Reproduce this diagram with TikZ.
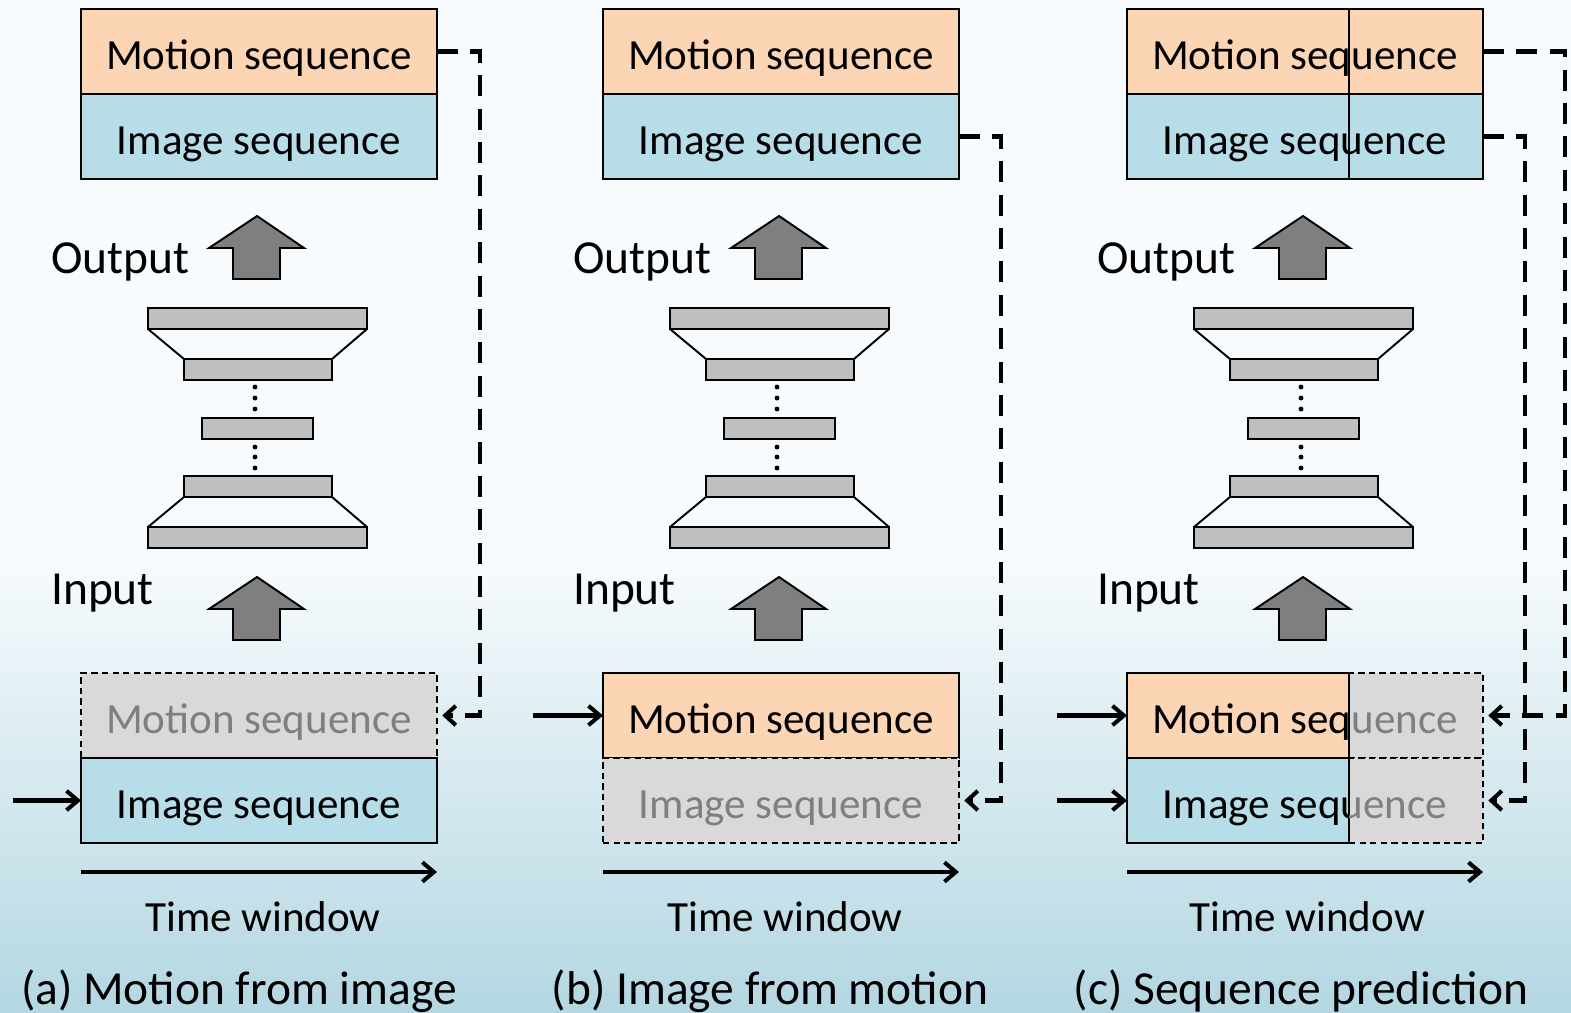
\documentclass[tikz,border=0pt]{standalone}
\usepackage{fontspec}
\setmainfont{Carlito}
\usetikzlibrary{positioning,arrows.meta}

\definecolor{motfill}{HTML}{FCD5B5}
\definecolor{imgfill}{HTML}{B7DEE8}
\definecolor{barfill}{HTML}{BFBFBF}
\definecolor{upfill}{HTML}{7F7F7F}
\definecolor{hidefill}{HTML}{D9D9D9}
\definecolor{hidetext}{HTML}{7F7F7F}
\definecolor{bgtop}{HTML}{F7FBFD}
\definecolor{bgbot}{HTML}{B4D7E2}

\tikzset{
  seqtext/.style={font=\fontsize{24.5}{28}\selectfont, text height=20pt, text depth=0pt, inner sep=0pt},
  seqbox/.style={seqtext, draw, line width=1.1pt, minimum width=7.12cm, minimum height=1.7cm, outer sep=0pt},
  motbox/.style={seqbox, fill=motfill},
  imgbox/.style={seqbox, fill=imgfill},
  hidebox/.style={seqbox, fill=hidefill, text=hidetext, line width=0.9pt, dash pattern=on 3.6pt off 2.4pt},
  bar/.style={draw, line width=1.1pt, fill=barfill},
  uparrow/.style={draw, line width=1.1pt, fill=upfill},
  lbl/.style={font=\fontsize{24.5}{28}\selectfont, inner sep=0pt, anchor=base},
  iolbl/.style={font=\fontsize{27}{32}\selectfont, inner sep=0pt, anchor=base},
  captxt/.style={font=\fontsize{27}{32}\selectfont, inner sep=0pt, anchor=base},
  feed/.style={line width=2.3pt, dash pattern=on 12pt off 7pt, -{Straight Barb[length=6pt,width=11pt]}, shorten >=3pt},
  inarrow/.style={line width=2.3pt, -{Straight Barb[length=6.5pt,width=11pt]}},
}

\begin{document}
\begin{tikzpicture}[x=0.02cm,y=-0.02cm]
\useasboundingbox (0,0) rectangle (1571,1012);
\fill[bgtop] (0,0) rectangle (1571,1012);
\shade[top color=bgtop, bottom color=bgbot] (0,560) rectangle (1571,1012);

% network, block arrows and labels, same in every panel
\foreach \dx/\p in {0/a,522/b,1046/c}{
\begin{scope}[shift={(\dx,0)}]
\draw[uparrow] (257,216) -- (304,248) -- (280,248) -- (280,279) -- (233,279) -- (233,248) -- (209,248) -- cycle;
\draw[uparrow] (257,577) -- (304,609) -- (280,609) -- (280,640) -- (233,640) -- (233,609) -- (209,609) -- cycle;
\node[iolbl] (out\p) at (120.5,273) {Output};
\node[iolbl] (in\p) at (102.5,604) {Input};

\draw[line width=1.1pt] (148,329) -- (184,359) (367,329) -- (332,359);
\draw[line width=1.1pt] (184,497) -- (148,527) (332,497) -- (367,527);
\draw[bar] (148,308) rectangle (367,329);
\draw[bar] (184,359) rectangle (332,380);
\draw[bar] (202,418) rectangle (313,439);
\draw[bar] (184,476) rectangle (332,497);
\draw[bar] (148,527) rectangle (367,548);
\foreach \y in {387,398,409,447,457,468}
  \fill (255,\y) circle (1.4pt);
\end{scope}
}

% (a)
\node[motbox] (mt_a) at (259,51.5) {Motion sequence};
\node[imgbox] (it_a) at (259,136.5) {Image sequence};
\node[hidebox] (mb_a) at (259,715.5) {Motion sequence};
\node[imgbox] (ib_a) at (259,800.5) {Image sequence};
\coordinate (fa) at (480,400);
\draw[feed] (mt_a.east) -| (fa) |- (mb_a.east);
\draw[inarrow] ([xshift=-1.36cm]ib_a.west) -- (ib_a.west);
\draw[inarrow] ([yshift=-0.58cm]ib_a.south west) -- ([yshift=-0.58cm]ib_a.south east);
\node[lbl] (tw_a) at (263,931) {Time window};
\node[captxt] (cap_a) at (239,1004) {(a) Motion from image};

% (b)
\node[motbox] (mt_b) at (781,51.5) {Motion sequence};
\node[imgbox] (it_b) at (781,136.5) {Image sequence};
\node[motbox] (mb_b) at (781,715.5) {Motion sequence};
\node[hidebox] (ib_b) at (781,800.5) {Image sequence};
\coordinate (fb) at (1001,400);
\draw[feed] (it_b.east) -| (fb) |- (ib_b.east);
\draw[inarrow] ([xshift=-1.4cm]mb_b.west) -- (mb_b.west);
\draw[inarrow] ([yshift=-0.58cm]ib_b.south west) -- ([yshift=-0.58cm]ib_b.south east);
\node[lbl] (tw_b) at (785,931) {Time window};
\node[captxt] (cap_b) at (770,1004) {(b) Image from motion};

% (c)
\node[motbox] (mt_c) at (1305,51.5) {Motion sequence};
\node[imgbox] (it_c) at (1305,136.5) {Image sequence};
\draw[line width=1.1pt] (1349,9) -- (1349,179);
\node[hidebox, minimum width=2.68cm] (mg_c) at (1416,715.5) {};
\node[hidebox, minimum width=2.68cm] (ig_c) at (1416,800.5) {};
\node[motbox, minimum width=4.44cm] (mb_c) at (1238,715.5) {};
\node[imgbox, minimum width=4.44cm] (ib_c) at (1238,800.5) {};
\begin{scope}
\clip (1127,673) rectangle (1349,843);
\node[seqtext] (mtl_c) at (1305,715.5) {Motion sequence};
\node[seqtext] (itl_c) at (1305,800.5) {Image sequence};
\end{scope}
\begin{scope}
\clip (1349,673) rectangle (1483,843);
\node[seqtext, text=hidetext] (mtr_c) at (1305,715.5) {Motion sequence};
\node[seqtext, text=hidetext] (itr_c) at (1305,800.5) {Image sequence};
\end{scope}
\coordinate (fc1) at (1565,400);
\coordinate (fc2) at (1525,400);
\draw[feed] (mt_c.east) -| (fc1) |- (mg_c.east);
\draw[feed] (it_c.east) -| (fc2) |- (ig_c.east);
\draw[inarrow] ([xshift=-1.4cm]mb_c.west) -- (mb_c.west);
\draw[inarrow] ([xshift=-1.4cm]ib_c.west) -- (ib_c.west);
\draw[inarrow] ([yshift=-0.58cm]ib_c.south west) -- ([yshift=-0.58cm]ig_c.south east);
\node[lbl] (tw_c) at (1307,931) {Time window};
\node[captxt] (cap_c) at (1301,1004) {(c) Sequence prediction};
\end{tikzpicture}
\end{document}
